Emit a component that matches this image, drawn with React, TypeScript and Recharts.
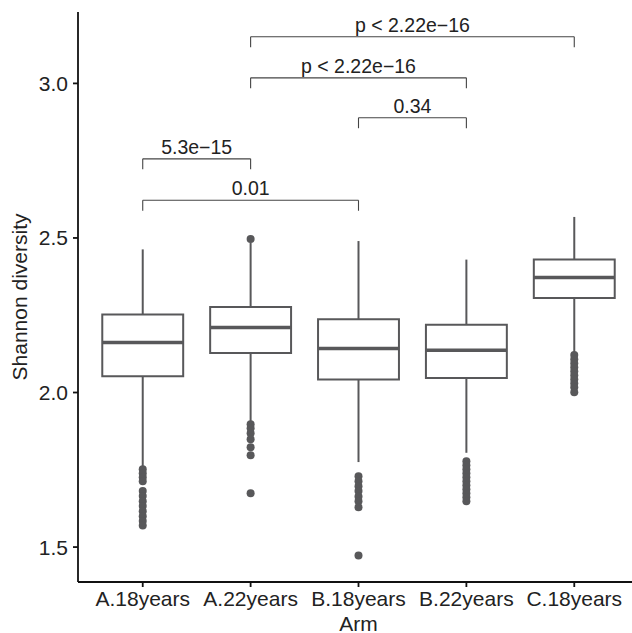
import React from "react";
import {
  ComposedChart,
  Scatter,
  XAxis,
  YAxis,
  ReferenceArea,
  ReferenceLine,
} from "recharts";

const categories = ["A.18years", "A.22years", "B.18years", "B.22years", "C.18years"];

// box statistics per arm
const q1 = [2.053, 2.128, 2.042, 2.047, 2.306];
const median = [2.162, 2.21, 2.142, 2.137, 2.372];
const q3 = [2.252, 2.277, 2.237, 2.219, 2.43];
const whiskerLow = [1.757, 1.905, 1.775, 1.805, 2.125];
const whiskerHigh = [2.463, 2.485, 2.49, 2.43, 2.568];

// outliers per arm
const outliers = [
  [1.752, 1.739, 1.726, 1.713, 1.681, 1.665, 1.648, 1.633, 1.616, 1.6, 1.584, 1.57],
  [2.497, 1.897, 1.884, 1.868, 1.849, 1.823, 1.797, 1.674],
  [1.729, 1.713, 1.697, 1.681, 1.664, 1.648, 1.629, 1.473],
  [1.778, 1.765, 1.752, 1.739, 1.726, 1.713, 1.7, 1.687, 1.674, 1.661, 1.648],
  [2.121, 2.108, 2.095, 2.082, 2.069, 2.056, 2.043, 2.03, 2.017, 2.001],
];

// significance brackets (1-based category positions)
const bracketFrom = [1, 1, 3, 2, 2];
const bracketTo = [3, 2, 4, 4, 5];
const bracketY = [2.622, 2.756, 2.889, 3.018, 3.151];
const bracketLabels = ["0.01", "5.3e\u221215", "0.34", "p < 2.22e\u221216", "p < 2.22e\u221216"];

const yTicks = [1.5, 2.0, 2.5, 3.0];

const BOX = "#58585a";
const HALF = 0.375;
const DROP = 0.034;

const points = outliers.flatMap((vals, i) => vals.map((v) => ({ x: i + 1, y: v })));

export default function App() {
  return (
    <div
      style={{
        position: "absolute",
        left: 0,
        top: 0,
        width: 632,
        height: 633,
        overflow: "hidden",
        background: "#fff",
        fontFamily: "'Liberation Sans', Arial, sans-serif",
      }}
    >
      <ComposedChart
        width={645}
        height={633}
        data={points}
        margin={{ top: 12, right: 6, bottom: 0, left: 0 }}
      >
        <XAxis
          type="number"
          dataKey="x"
          domain={[0.4, 5.6]}
          allowDataOverflow
          ticks={[1, 2, 3, 4, 5]}
          interval={0}
          tickFormatter={(v: number) => categories[v - 1]}
          height={51}
          stroke="#111"
          strokeWidth={1.8}
          tickSize={5}
          tickMargin={4}
          tick={{ fill: "#222", fontSize: 21 }}
          label={{ value: "Arm", position: "insideBottom", offset: 2.5, fill: "#222", fontSize: 21 }}
        />
        <YAxis
          type="number"
          dataKey="y"
          domain={[1.387, 3.231]}
          allowDataOverflow
          ticks={yTicks}
          interval={0}
          tickFormatter={(v: number) => v.toFixed(1)}
          width={78}
          stroke="#111"
          strokeWidth={1.8}
          tickSize={5}
          tickMargin={5}
          tick={{ fill: "#222", fontSize: 21 }}
          label={{
            value: "Shannon diversity",
            angle: -90,
            position: "center",
            dx: -19,
            fill: "#222",
            fontSize: 21,
          }}
        />

        {categories.map((c, i) => (
          <ReferenceLine
            key={"wl" + c}
            segment={[
              { x: i + 1, y: whiskerLow[i] },
              { x: i + 1, y: q1[i] },
            ]}
            stroke={BOX}
            strokeWidth={2}
          />
        ))}
        {categories.map((c, i) => (
          <ReferenceLine
            key={"wh" + c}
            segment={[
              { x: i + 1, y: q3[i] },
              { x: i + 1, y: whiskerHigh[i] },
            ]}
            stroke={BOX}
            strokeWidth={2}
          />
        ))}
        {categories.map((c, i) => (
          <ReferenceArea
            key={"box" + c}
            x1={i + 1 - HALF}
            x2={i + 1 + HALF}
            y1={q1[i]}
            y2={q3[i]}
            fill="#fff"
            fillOpacity={1}
            stroke={BOX}
            strokeWidth={2}
          />
        ))}
        {categories.map((c, i) => (
          <ReferenceLine
            key={"med" + c}
            segment={[
              { x: i + 1 - HALF, y: median[i] },
              { x: i + 1 + HALF, y: median[i] },
            ]}
            stroke={BOX}
            strokeWidth={3.5}
          />
        ))}

        {bracketLabels.map((lab, i) => (
          <ReferenceLine
            key={"br" + i}
            segment={[
              { x: bracketFrom[i], y: bracketY[i] },
              { x: bracketTo[i], y: bracketY[i] },
            ]}
            stroke="#444"
            strokeWidth={1.1}
            label={{ value: lab, position: "top", offset: 5, fill: "#222", fontSize: 19.5 }}
          />
        ))}
        {bracketLabels.map((lab, i) => (
          <ReferenceLine
            key={"bl" + i}
            segment={[
              { x: bracketFrom[i], y: bracketY[i] },
              { x: bracketFrom[i], y: bracketY[i] - DROP },
            ]}
            stroke="#444"
            strokeWidth={1.1}
          />
        ))}
        {bracketLabels.map((lab, i) => (
          <ReferenceLine
            key={"br2" + i}
            segment={[
              { x: bracketTo[i], y: bracketY[i] },
              { x: bracketTo[i], y: bracketY[i] - DROP },
            ]}
            stroke="#444"
            strokeWidth={1.1}
          />
        ))}

        <Scatter
          dataKey="y"
          isAnimationActive={false}
          shape={(p: any) => <circle cx={p.cx} cy={p.cy} r={4} fill={BOX} />}
        />
      </ComposedChart>
    </div>
  );
}
